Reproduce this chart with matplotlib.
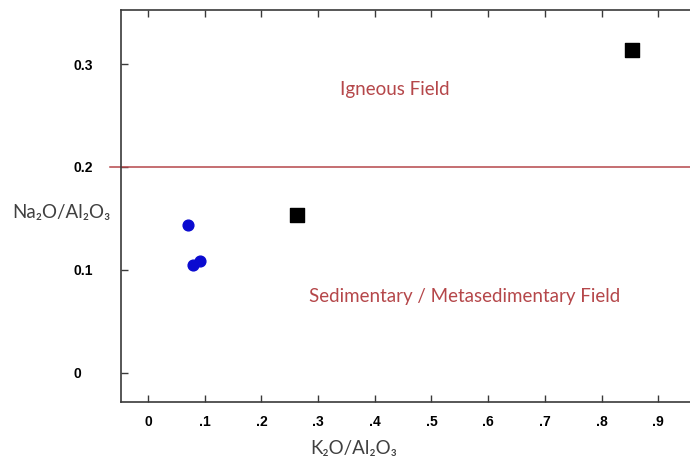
import matplotlib
matplotlib.use("Agg")
import matplotlib.pyplot as plt

# data
igneous_x = [0.071, 0.080, 0.092]
igneous_y = [0.144, 0.105, 0.109]
square_x = [0.262, 0.854]
square_y = [0.153, 0.314]
boundary_y = 0.2
x_ticks = [0, 0.1, 0.2, 0.3, 0.4, 0.5, 0.6, 0.7, 0.8, 0.9]
x_tick_labels = ["0", ".1", ".2", ".3", ".4", ".5", ".6", ".7", ".8", ".9"]
y_ticks = [0, 0.1, 0.2, 0.3]
y_tick_labels = ["0", "0.1", "0.2", "0.3"]

fig = plt.figure(figsize=(6.9, 4.62), dpi=100)
ax = fig.add_axes([121/690, 60/462, 569/690, 392/462])
ax.set_xlim(-0.0476, 0.956)
ax.set_ylim(-0.0285, 0.3525)

spine_col = "#3a3a3a"
for s in ["left", "bottom", "top"]:
    ax.spines[s].set_color(spine_col)
    ax.spines[s].set_linewidth(1.2)
ax.spines["right"].set_visible(False)

ax.set_xticks(x_ticks)
ax.set_xticklabels(x_tick_labels, fontfamily="Liberation Sans", fontweight="bold", fontsize=10)
ax.set_yticks(y_ticks)
ax.set_yticklabels(y_tick_labels, fontfamily="Liberation Sans", fontweight="bold", fontsize=10, ha="left")
ax.tick_params(axis="x", direction="in", length=5, width=1, color=spine_col, top=True, pad=9)
ax.tick_params(axis="y", direction="in", length=5, width=1, color=spine_col, pad=34)

ax.axhline(boundary_y, xmin=-0.02, xmax=1, color="#b5474a", lw=1.1, clip_on=False)

ax.scatter(igneous_x, igneous_y, s=60, marker="o", color="#0a0ad0", zorder=3)
ax.scatter(square_x, square_y, s=95, marker="s", color="black", zorder=3)

ax.text(0.436, 0.275, "Igneous Field", color="#b5474a", fontsize=13.5, fontfamily="Lato",
        ha="center", va="center")
ax.text(0.559, 0.074, "Sedimentary / Metasedimentary Field", color="#b5474a", fontsize=13.5,
        fontfamily="Lato", ha="center", va="center")

fig.text(354/690, 1 - 449/462, "K₂O/Al₂O₃", color="#404040", fontsize=13.5,
         fontfamily=["Lato", "DejaVu Sans"], ha="center", va="center")
fig.text(12/690, 1 - 212/462, "Na₂O/Al₂O₃", color="#404040", fontsize=13.5,
         fontfamily=["Lato", "DejaVu Sans"], ha="left", va="center")

fig.savefig("out.png", dpi=100)
